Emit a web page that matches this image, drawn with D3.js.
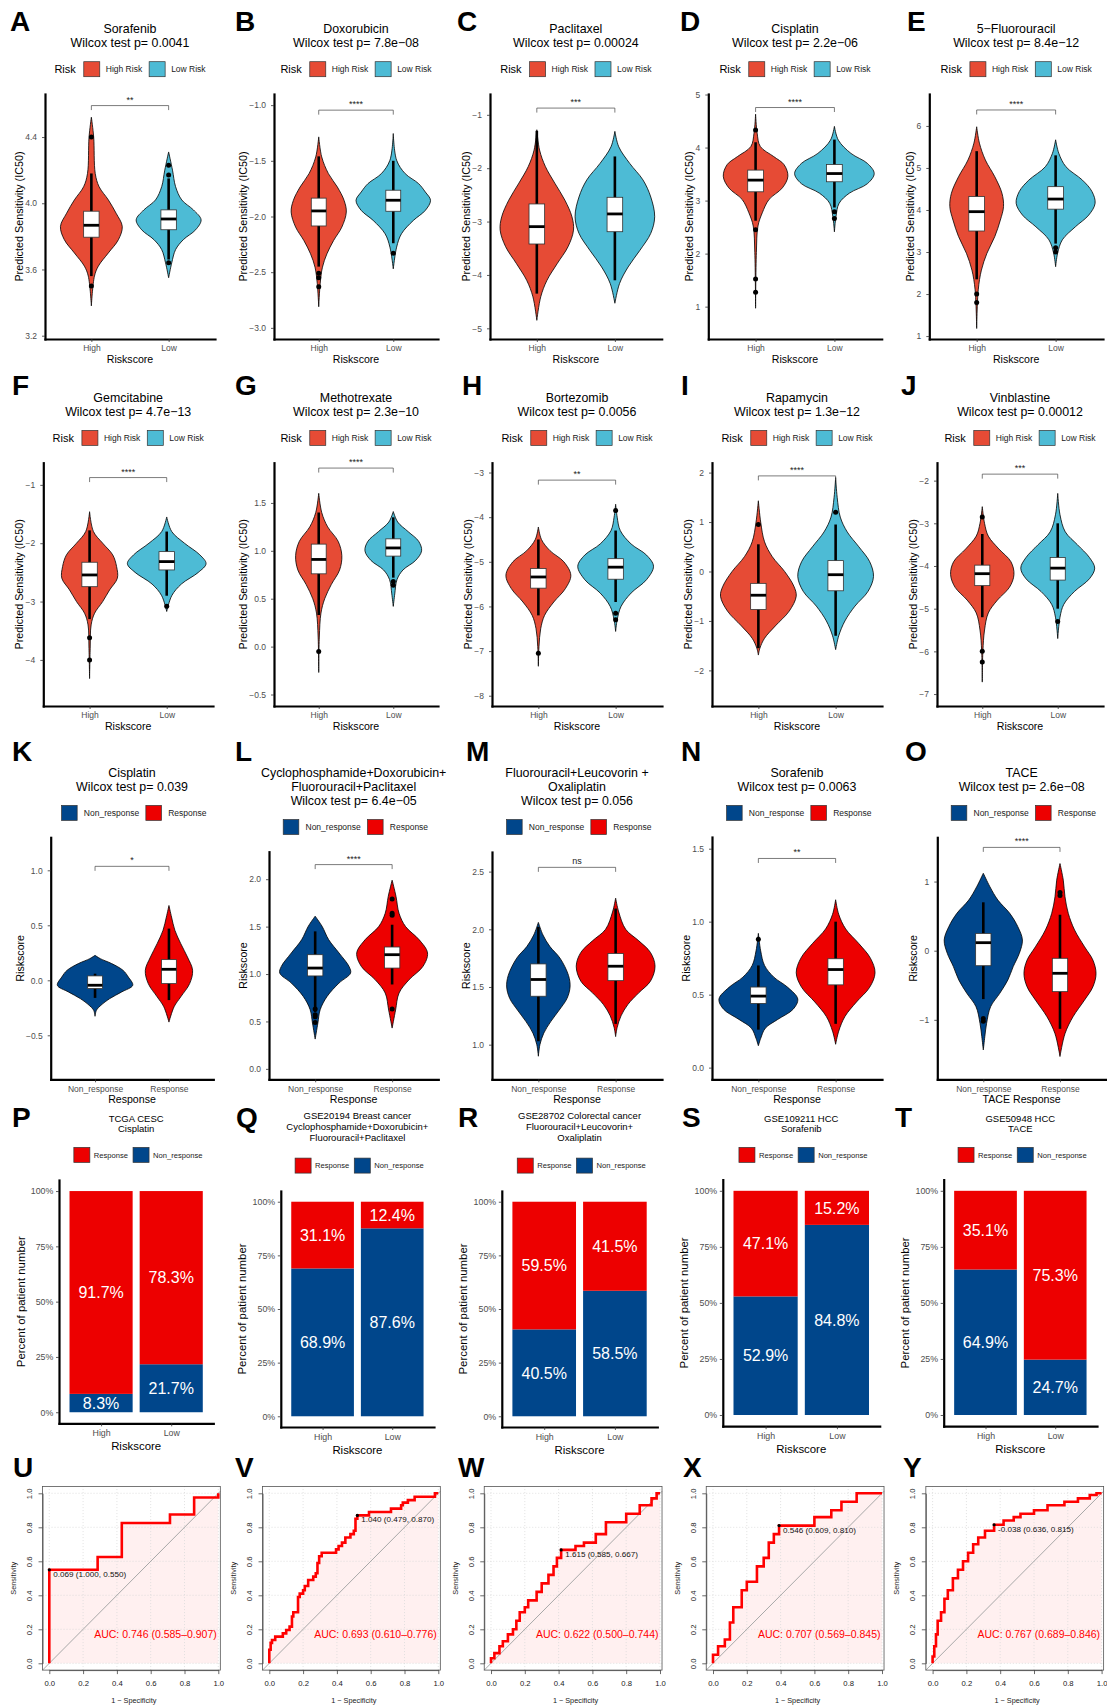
<!DOCTYPE html>
<html>
<head>
<meta charset="utf-8">
<title>Drug sensitivity and treatment response by risk score</title>
<script src="https://cdn.jsdelivr.net/npm/d3@7/dist/d3.min.js"></script>
<style>
  html, body { margin: 0; padding: 0; background: #fff; }
  svg { display: block; font-family: "Liberation Sans", Arial, Helvetica, sans-serif; }
</style>
</head>
<body>
<svg id="fig" width="1107" height="1707"></svg>
<script>
// ------------------------------------------------------------------
// Groups, colours and labels
// ------------------------------------------------------------------
const riskGroups = ["High", "Low"];
const riskLegend = ["High Risk", "Low Risk"];
const riskColors = ["#E64B35", "#4DBBD5"];
const responseGroups = ["Non_response", "Response"];
const responseColors = ["#00468B", "#ED0000"];

// Panels A–J: predicted IC50 per drug
const drugNames = ["Sorafenib", "Doxorubicin", "Paclitaxel", "Cisplatin", "5\u2212Fluorouracil",
                   "Gemcitabine", "Methotrexate", "Bortezomib", "Rapamycin", "Vinblastine"];
const drugP = ["0.0041", "7.8e\u221208", "0.00024", "2.2e\u221206", "8.4e\u221212",
               "4.7e\u221213", "2.3e\u221210", "0.0056", "1.3e\u221212", "0.00012"];
const drugSignif = ["**", "****", "***", "****", "****", "****", "****", "**", "****", "***"];

// Panels K–O: risk score per response group
const cohortTitles = [
  ["Cisplatin"],
  ["Cyclophosphamide+Doxorubicin+", "Fluorouracil+Paclitaxel"],
  ["Fluorouracil+Leucovorin +", "Oxaliplatin"],
  ["Sorafenib"],
  ["TACE"]
];
const cohortP = ["0.039", "6.4e\u221205", "0.056", "0.0063", "2.6e\u221208"];
const cohortSignif = ["*", "****", "ns", "**", "****"];
const cohortXTitle = ["Response", "Response", "Response", "Response", "TACE Response"];

// Violin outlines: [value, half-width in category units], one list per group
const violinA = [
  [[4.52,0],[4.40,0.03],[4.18,0.05],[4.10,0.10],[4.02,0.22],[3.94,0.32],[3.86,0.40],[3.78,0.35],[3.70,0.22],[3.62,0.09],[3.56,0.04],[3.38,0]],
  [[4.31,0],[4.20,0.05],[4.10,0.09],[4.02,0.17],[3.96,0.32],[3.90,0.42],[3.84,0.35],[3.78,0.19],[3.72,0.09],[3.64,0.04],[3.55,0]]
];
const violinB = [
  [[-1.285,0],[-1.465,0.04],[-1.615,0.13],[-1.735,0.25],[-1.855,0.34],[-1.96,0.37],[-2.095,0.31],[-2.215,0.2],[-2.335,0.11],[-2.455,0.05],[-2.6,0.02],[-2.81,0]],
  [[-1.255,0],[-1.495,0.045],[-1.615,0.16],[-1.705,0.34],[-1.78,0.43],[-1.855,0.5],[-1.945,0.43],[-2.035,0.27],[-2.155,0.11],[-2.275,0.045],[-2.47,0]]
];
const violinC = [
  [[-1.28,0],[-1.66,0.035],[-1.97,0.11],[-2.28,0.23],[-2.6,0.36],[-2.91,0.45],[-3.16,0.47],[-3.47,0.4],[-3.79,0.26],[-4.1,0.13],[-4.41,0.05],[-4.85,0]],
  [[-1.31,0],[-1.6,0.05],[-1.91,0.19],[-2.22,0.36],[-2.54,0.46],[-2.91,0.51],[-3.22,0.46],[-3.54,0.32],[-3.85,0.17],[-4.16,0.06],[-4.53,0]]
];
const violinD = [
  [[4.63,0],[4.27,0.02],[4.02,0.06],[3.83,0.23],[3.68,0.36],[3.46,0.41],[3.24,0.34],[3.02,0.17],[2.77,0.085],[2.52,0.03],[2.02,0.01],[0.97,0]],
  [[4.40,0],[4.14,0.05],[3.89,0.21],[3.70,0.42],[3.51,0.505],[3.32,0.42],[3.14,0.19],[2.95,0.06],[2.7,0.02],[2.41,0]]
];
const violinE = [
  [[5.98,0],[5.59,0.035],[5.19,0.11],[4.79,0.23],[4.40,0.32],[4.08,0.34],[3.76,0.30],[3.37,0.23],[2.97,0.13],[2.57,0.06],[2.1,0.02],[1.18,0]],
  [[5.67,0],[5.35,0.04],[5.03,0.13],[4.71,0.34],[4.44,0.46],[4.16,0.5],[3.88,0.42],[3.6,0.25],[3.29,0.085],[2.97,0.025],[2.65,0]]
];
const violinF = [
  [[-1.46,0],[-1.8,0.05],[-2.0,0.17],[-2.2,0.3],[-2.4,0.35],[-2.6,0.36],[-2.8,0.26],[-3.0,0.17],[-3.2,0.065],[-3.4,0.02],[-3.8,0.008],[-4.32,0]],
  [[-1.55,0],[-1.8,0.065],[-2.0,0.23],[-2.2,0.43],[-2.35,0.51],[-2.5,0.41],[-2.7,0.19],[-2.9,0.065],[-3.17,0]]
];
const violinG = [
  [[1.6,0],[1.4,0.04],[1.25,0.12],[1.1,0.26],[0.95,0.31],[0.8,0.28],[0.65,0.17],[0.5,0.08],[0.35,0.03],[0.1,0.008],[-0.27,0]],
  [[1.41,0],[1.3,0.06],[1.2,0.2],[1.1,0.34],[1.0,0.38],[0.9,0.3],[0.8,0.13],[0.7,0.05],[0.55,0.02],[0.42,0]]
];
const violinH = [
  [[-4.22,0],[-4.5,0.04],[-4.75,0.15],[-5.0,0.33],[-5.3,0.42],[-5.6,0.35],[-5.9,0.2],[-6.2,0.08],[-6.5,0.03],[-6.9,0.008],[-7.34,0]],
  [[-3.71,0],[-4.0,0.02],[-4.3,0.06],[-4.6,0.2],[-4.85,0.4],[-5.1,0.49],[-5.4,0.4],[-5.7,0.2],[-6.0,0.07],[-6.3,0.02],[-6.56,0]]
];
const violinI = [
  [[1.43,0],[1.0,0.03],[0.6,0.08],[0.3,0.18],[0.0,0.34],[-0.3,0.46],[-0.5,0.49],[-0.8,0.4],[-1.1,0.22],[-1.35,0.08],[-1.55,0.02],[-1.69,0]],
  [[1.9,0],[1.5,0.02],[1.1,0.06],[0.8,0.15],[0.5,0.3],[0.2,0.44],[-0.1,0.49],[-0.4,0.42],[-0.7,0.25],[-1.0,0.12],[-1.3,0.04],[-1.58,0]]
];
const violinJ = [
  [[-2.61,0],[-3.0,0.03],[-3.3,0.08],[-3.6,0.22],[-3.9,0.38],[-4.2,0.42],[-4.5,0.36],[-4.8,0.2],[-5.1,0.08],[-5.5,0.03],[-6.0,0.008],[-6.72,0]],
  [[-2.3,0],[-2.8,0.03],[-3.2,0.1],[-3.5,0.26],[-3.8,0.42],[-4.05,0.49],[-4.3,0.42],[-4.6,0.22],[-4.9,0.08],[-5.2,0.03],[-5.7,0]]
];
const violinK = [
  [[0.227,0],[0.197,0.07],[0.152,0.225],[0.09,0.38],[0.03,0.45],[-0.045,0.51],[-0.106,0.36],[-0.166,0.2],[-0.227,0.08],[-0.27,0.02],[-0.327,0]],
  [[0.68,0],[0.575,0.035],[0.455,0.08],[0.333,0.16],[0.212,0.25],[0.091,0.32],[-0.03,0.28],[-0.15,0.16],[-0.24,0.07],[-0.38,0]]
];
const violinL = [
  [[1.61,0],[1.503,0.09],[1.363,0.175],[1.222,0.31],[1.08,0.44],[1.01,0.46],[0.905,0.31],[0.764,0.155],[0.624,0.065],[0.483,0.035],[0.314,0]],
  [[1.99,0],[1.82,0.05],[1.64,0.09],[1.5,0.175],[1.363,0.35],[1.222,0.46],[1.08,0.4],[0.94,0.22],[0.8,0.09],[0.62,0.045],[0.43,0]]
];
const violinM = [
  [[2.06,0],[1.95,0.06],[1.85,0.15],[1.75,0.28],[1.6,0.39],[1.5,0.41],[1.4,0.37],[1.3,0.27],[1.2,0.16],[1.1,0.07],[1.0,0.02],[0.9,0]],
  [[2.27,0],[2.15,0.04],[2.0,0.13],[1.9,0.3],[1.8,0.45],[1.68,0.51],[1.55,0.45],[1.45,0.3],[1.35,0.16],[1.25,0.07],[1.15,0.02],[1.07,0]]
];
const violinN = [
  [[0.92,0],[0.8,0.03],[0.7,0.08],[0.62,0.2],[0.55,0.38],[0.47,0.51],[0.4,0.45],[0.33,0.25],[0.27,0.09],[0.2,0.03],[0.15,0]],
  [[1.15,0],[1.05,0.04],[0.95,0.13],[0.85,0.3],[0.75,0.45],[0.65,0.51],[0.55,0.44],[0.45,0.27],[0.35,0.12],[0.25,0.04],[0.16,0]]
];
const violinO = [
  [[1.12,0],[0.925,0.086],[0.732,0.19],[0.54,0.345],[0.347,0.45],[0.155,0.51],[-0.037,0.47],[-0.23,0.39],[-0.423,0.32],[-0.616,0.215],[-0.81,0.095],[-1.05,0.043],[-1.24,0.02],[-1.435,0]],
  [[1.26,0],[1.02,0.043],[0.78,0.065],[0.54,0.108],[0.3,0.19],[0.057,0.32],[-0.137,0.43],[-0.33,0.47],[-0.52,0.43],[-0.714,0.32],[-0.955,0.17],[-1.2,0.065],[-1.53,0]]
];

// Box summaries per group: [lower whisker, Q1, median, Q3, upper whisker]
const boxA = [[3.56,3.795,3.867,3.952,4.18],[3.66,3.84,3.905,3.96,4.15]];
const boxB = [[-2.45,-2.085,-1.95,-1.835,-1.46],[-2.24,-1.953,-1.854,-1.764,-1.5]];
const boxC = [[-4.35,-3.42,-3.095,-2.67,-1.3],[-4.1,-3.19,-2.857,-2.545,-1.78]];
const boxD = [[2.62,3.166,3.386,3.575,4.1],[2.87,3.355,3.51,3.68,4.15]];
const boxE = [[2.35,3.5,3.96,4.32,5.4],[3.2,4.02,4.26,4.555,5.3]];
const boxF = [[-3.3,-2.745,-2.544,-2.326,-1.78],[-2.9,-2.458,-2.315,-2.144,-1.8]];
const boxG = [[0.33,0.76,0.91,1.07,1.4],[0.72,0.945,1.03,1.125,1.35]];
const boxH = [[-6.2,-5.59,-5.34,-5.15,-4.5],[-5.9,-5.39,-5.12,-4.93,-4.3]];
const boxI = [[-1.55,-0.77,-0.48,-0.24,0.55],[-1.3,-0.39,-0.065,0.22,0.95]];
const boxJ = [[-5.2,-4.46,-4.18,-3.98,-3.25],[-5.0,-4.33,-4.05,-3.8,-3.0]];
const boxK = [[-0.16,-0.075,-0.045,0.04,0.06],[-0.18,-0.03,0.1,0.188,0.47]];
const boxL = [[0.6,0.98,1.063,1.204,1.45],[0.89,1.063,1.204,1.285,1.52]];
const boxM = [[1.03,1.42,1.565,1.7,2.02],[1.18,1.555,1.68,1.79,2.18]];
const boxN = [[0.26,0.44,0.49,0.552,0.7],[0.3,0.567,0.672,0.746,1.0]];
const boxO = [[-0.7,-0.217,0.116,0.25,0.7],[-1.13,-0.592,-0.327,-0.11,0.52]];

// Outlying observations per group
const outA = [[4.40,3.50],[4.23,4.17,3.64]];
const outB = [[-2.51,-2.55,-2.63],[-2.33]];
const outC = [[],[]];
const outD = [[4.33,2.45,1.52,1.27],[2.79,2.66]];
const outE = [[2.0,1.8],[3.1,3.0]];
const outF = [[-3.62,-4.0],[-3.08]];
const outG = [[-0.05],[0.68,0.64]];
const outH = [[-7.05],[-3.85,-6.15,-6.3]];
const outI = [[0.95],[1.2]];
const outJ = [[-2.85,-6.0,-6.25],[-5.3]];
const outK = [[],[]];
const outL = [[0.63,0.57,0.55,0.49],[1.79,1.64,1.62,0.63]];
const outM = [[],[]];
const outN = [[0.88],[]];
const outO = [[-0.98,-1.02],[0.8,0.84]];

// Height of the significance bracket (data units)
const bracketY = [4.59, -1.045, -0.874, 4.755, 6.38, -0.875, 1.864, -3.17, 1.933, -1.848,
                  1.036, 2.154, 2.537, 1.433, 1.494];

// Y scale domains and tick values
const yDomains = [[3.18,4.66],[-3.10,-0.90],[-5.20,-0.61],[0.39,5.01],[0.93,6.76],
                  [-4.79,-0.62],[-0.62,1.92],[-8.23,-2.78],[-2.72,2.20],[-7.28,-1.58],
                  [-0.90,1.30],[-0.11,2.29],[0.70,2.67],[-0.08,1.58],[-1.86,1.64]];
const yTicks = [[3.2,3.6,4.0,4.4],[-3,-2.5,-2,-1.5,-1],[-5,-4,-3,-2,-1],[1,2,3,4,5],[1,2,3,4,5,6],
                [-4,-3,-2,-1],[-0.5,0,0.5,1,1.5],[-8,-7,-6,-5,-4,-3],[-2,-1,0,1,2],[-7,-6,-5,-4,-3,-2],
                [-0.5,0,0.5,1],[0,0.5,1,1.5,2],[1,1.5,2,2.5],[0,0.5,1,1.5],[-1,0,1]];
const yFormats = [".1f",".1f","d","d","d","d",".1f","d","d","d",".1f",".1f",".1f",".1f","d"];

// Panels P–T: share of responders per risk group (%)
const barGroups = ["High", "Low"];
const barTitles = [
  ["TCGA CESC", "Cisplatin"],
  ["GSE20194 Breast cancer", "Cyclophosphamide+Doxorubicin+", "Fluorouracil+Paclitaxel"],
  ["GSE28702 Colorectal cancer", "Fluorouracil+Leucovorin+", "Oxaliplatin"],
  ["GSE109211 HCC", "Sorafenib"],
  ["GSE50948 HCC", "TACE"]
];
const barResponse    = [[91.7, 78.3], [31.1, 12.4], [59.5, 41.5], [47.1, 15.2], [35.1, 75.3]];
const barNonResponse = [[8.3, 21.7], [68.9, 87.6], [40.5, 58.5], [52.9, 84.8], [64.9, 24.7]];

// Panels U–Y: ROC curves as (1 - specificity, sensitivity) vertices
const rocU = [[0,0],[0,0.55],[0.286,0.55],[0.286,0.625],[0.429,0.625],[0.429,0.825],[0.714,0.825],[0.714,0.875],[0.857,0.875],[0.857,0.975],[1,0.975],[1,1]];
const rocV = [[0,0],[0,0.08],[0.008,0.08],[0.008,0.12],[0.016,0.12],[0.016,0.137],[0.035,0.137],[0.035,0.157],[0.08,0.157],[0.08,0.176],[0.1,0.176],[0.1,0.196],[0.12,0.196],[0.12,0.216],[0.134,0.216],[0.134,0.275],[0.142,0.275],[0.142,0.3],[0.17,0.3],[0.17,0.39],[0.18,0.39],[0.18,0.41],[0.2,0.41],[0.2,0.43],[0.21,0.43],[0.21,0.455],[0.23,0.455],[0.23,0.49],[0.26,0.49],[0.26,0.51],[0.275,0.51],[0.275,0.53],[0.285,0.53],[0.285,0.59],[0.295,0.59],[0.295,0.63],[0.31,0.63],[0.31,0.65],[0.395,0.65],[0.395,0.67],[0.41,0.67],[0.41,0.69],[0.43,0.69],[0.43,0.71],[0.45,0.71],[0.45,0.74],[0.48,0.74],[0.48,0.76],[0.5,0.76],[0.5,0.78],[0.51,0.78],[0.51,0.85],[0.521,0.85],[0.521,0.87],[0.59,0.87],[0.59,0.89],[0.72,0.89],[0.72,0.91],[0.78,0.91],[0.78,0.93],[0.79,0.93],[0.79,0.945],[0.82,0.945],[0.82,0.96],[0.86,0.96],[0.86,0.98],[0.98,0.98],[0.98,1],[1,1]];
const rocW = [[0,0],[0,0.03],[0.02,0.03],[0.02,0.06],[0.05,0.06],[0.05,0.1],[0.07,0.1],[0.07,0.13],[0.1,0.13],[0.1,0.17],[0.13,0.17],[0.13,0.2],[0.15,0.2],[0.15,0.25],[0.17,0.25],[0.17,0.3],[0.2,0.3],[0.2,0.33],[0.22,0.33],[0.22,0.37],[0.27,0.37],[0.27,0.42],[0.3,0.42],[0.3,0.47],[0.34,0.47],[0.34,0.52],[0.37,0.52],[0.37,0.57],[0.39,0.57],[0.39,0.62],[0.415,0.62],[0.415,0.667],[0.5,0.667],[0.5,0.69],[0.55,0.69],[0.55,0.71],[0.62,0.71],[0.62,0.76],[0.68,0.76],[0.68,0.83],[0.8,0.83],[0.8,0.88],[0.88,0.88],[0.88,0.93],[0.95,0.93],[0.95,0.97],[0.98,0.97],[0.98,1],[1,1]];
const rocX = [[0,0],[0,0.05],[0.03,0.05],[0.03,0.1],[0.07,0.1],[0.07,0.14],[0.1,0.14],[0.1,0.24],[0.12,0.24],[0.12,0.33],[0.17,0.33],[0.17,0.43],[0.2,0.43],[0.2,0.48],[0.26,0.48],[0.26,0.57],[0.3,0.57],[0.3,0.62],[0.33,0.62],[0.33,0.71],[0.36,0.71],[0.36,0.76],[0.391,0.76],[0.391,0.81],[0.6,0.81],[0.6,0.86],[0.7,0.86],[0.7,0.9],[0.76,0.9],[0.76,0.95],[0.85,0.95],[0.85,1],[1,1]];
const rocY = [[0,0],[0,0.04],[0.01,0.04],[0.01,0.1],[0.02,0.1],[0.02,0.17],[0.03,0.17],[0.03,0.25],[0.05,0.25],[0.05,0.3],[0.07,0.3],[0.07,0.38],[0.09,0.38],[0.09,0.43],[0.12,0.43],[0.12,0.5],[0.15,0.5],[0.15,0.55],[0.18,0.55],[0.18,0.6],[0.21,0.6],[0.21,0.65],[0.24,0.65],[0.24,0.7],[0.27,0.7],[0.27,0.74],[0.31,0.74],[0.31,0.78],[0.364,0.78],[0.364,0.815],[0.42,0.815],[0.42,0.84],[0.48,0.84],[0.48,0.86],[0.52,0.86],[0.52,0.88],[0.6,0.88],[0.6,0.9],[0.68,0.9],[0.68,0.93],[0.78,0.93],[0.78,0.95],[0.86,0.95],[0.86,0.97],[0.93,0.97],[0.93,0.99],[0.97,0.99],[0.97,1],[1,1]];
// Best threshold: [threshold, specificity, sensitivity]
const rocBest = [[0.069,1.000,0.550],[1.040,0.479,0.870],[1.615,0.585,0.667],[0.546,0.609,0.810],[-0.038,0.636,0.815]];
// AUC with 95% CI
const rocAUC = [[0.746,0.585,0.907],[0.693,0.610,0.776],[0.622,0.500,0.744],[0.707,0.569,0.845],[0.767,0.689,0.846]];

// ------------------------------------------------------------------
// Page layout (pixel boxes for each panel)
// ------------------------------------------------------------------
const violinIds = ["A","B","C","D","E","F","G","H","I","J","K","L","M","N","O"];
// plot area: [left, right, top, bottom]
const violinFrames = [
  [45,215,94,339],[274,438,94,339],[490,661.7,94,339],[708.3,881.7,94,339],[929.3,1103,94,339],
  [43.3,213,462.7,706],[274,438,462.7,706],[492,662,462.7,706],[712,882,462.7,706],[937,1103,462.7,706],
  [50.7,213.3,837.3,1079.3],[269,438.3,851.7,1079.3],[492,662,852,1079.3],[712,882,837,1079.3],[937.3,1106,837.3,1079.3]
];
const violinTags = [[10,31],[235,31],[457,31],[680,31],[907,31],
                    [12,395],[235,395],[462,395],[681,395],[901,395],
                    [12,761],[235,761],[466,761],[681,761],[905,761]];
const rowTitleY = [33, 401.7, 776.7];
const barIds = ["P","Q","R","S","T"];
const barFrames = [[59,213.3,1180,1423.3],[280.8,434,1191,1427],[501.8,657.3,1191,1427],[722.8,879.7,1179.6,1426.2],[943.7,1097,1179.6,1426.2]];
const barTags = [[12,1127],[236,1127],[458,1127],[682,1127],[895,1127]];
const rocIds = ["U","V","W","X","Y"];
const rocOrigins = [0, 220, 441.7, 663.7, 883.3];
const rocTags = [[13,1477],[235,1477],[458,1477],[683,1477],[903,1477]];

// ------------------------------------------------------------------
// Drawing helpers
// ------------------------------------------------------------------
const svg = d3.select("#fig");
svg.append("rect").attr("width", 1107).attr("height", 1707).attr("fill", "#fff");

function tag(pos, t) {
  svg.append("text").attr("x", pos[0]).attr("y", pos[1])
    .attr("font-size", 28).attr("font-weight", "bold").attr("fill", "#000").text(t);
}

function legend(parent, cx, cy, title, labels, colors, o) {
  const g = parent.append("g");
  let pos = 0;
  if (title) {
    const t = g.append("text").attr("x", 0).attr("y", cy).attr("dy", "0.35em")
      .attr("font-size", o.titleSize).text(title);
    pos = t.node().getComputedTextLength() + o.titleGap;
  }
  labels.forEach((lab, i) => {
    g.append("rect").attr("x", pos).attr("y", cy - o.h / 2).attr("width", o.w).attr("height", o.h)
      .attr("fill", colors[i]).attr("stroke", "#333").attr("stroke-width", 0.7);
    pos += o.w + o.textGap;
    const t = g.append("text").attr("x", pos).attr("y", cy).attr("dy", "0.35em")
      .attr("font-size", o.size).attr("fill", "#1a1a1a").text(lab);
    pos += t.node().getComputedTextLength();
    if (i < labels.length - 1) pos += o.itemGap;
  });
  g.attr("transform", `translate(${cx - pos / 2},0)`);
}

function styleAxis(a, fs, color, lineW) {
  a.attr("font-family", null).attr("font-size", null);
  a.select(".domain").attr("stroke", "#000").attr("stroke-width", lineW).attr("stroke-linecap", "square");
  a.selectAll(".tick line").attr("stroke", "#333").attr("stroke-width", 0.8);
  a.selectAll(".tick text").attr("font-size", fs).attr("fill", color);
}

function maxLabelWidth(a) {
  let w = 0;
  a.selectAll(".tick text").each(function () { w = Math.max(w, this.getComputedTextLength()); });
  return w;
}

// ------------------------------------------------------------------
// Violin + box panels (A–O)
// ------------------------------------------------------------------
const violinShapes = [violinA,violinB,violinC,violinD,violinE,violinF,violinG,violinH,violinI,violinJ,violinK,violinL,violinM,violinN,violinO];
const violinBoxes  = [boxA,boxB,boxC,boxD,boxE,boxF,boxG,boxH,boxI,boxJ,boxK,boxL,boxM,boxN,boxO];
const violinOut    = [outA,outB,outC,outD,outE,outF,outG,outH,outI,outJ,outK,outL,outM,outN,outO];

violinIds.forEach((id, k) => {
  const [L, R, T, B] = violinFrames[k];
  const isDrug = k < 10;
  const row = Math.floor(k / 5);
  const g = svg.append("g");
  const x = d3.scaleLinear().domain([0.4, 2.6]).range([L, R]);
  const y = d3.scaleLinear().domain(yDomains[k]).range([B, T]);
  const mid = (L + R) / 2;
  const colors = isDrug ? riskColors : responseColors;
  const groups = isDrug ? riskGroups : responseGroups;

  tag(violinTags[k], id);

  // title
  const lines = isDrug
    ? [drugNames[k], "Wilcox test p= " + drugP[k]]
    : cohortTitles[k - 10].concat(["Wilcox test p= " + cohortP[k - 10]]);
  lines.forEach((t, i) => g.append("text").attr("x", mid).attr("y", rowTitleY[row] + i * 14.1)
    .attr("text-anchor", "middle").attr("font-size", 12.4).attr("fill", "#000").text(t));

  // legend
  const legendY = rowTitleY[row] + lines.length * 14.1 + 8;
  if (isDrug) {
    legend(g, mid, legendY, "Risk", riskLegend, riskColors,
      {titleSize: 11, titleGap: 8, w: 16, h: 15, textGap: 6, itemGap: 7, size: 8.5});
  } else {
    legend(g, mid + 2, legendY, null, responseGroups, responseColors,
      {w: 15.6, h: 15, textGap: 6.7, itemGap: 6.7, size: 8.5});
  }

  // violins
  violinShapes[k].forEach((prof, i) => {
    const c = i + 1;
    const area = d3.area().curve(d3.curveCatmullRom.alpha(0.5))
      .y(d => y(d[0])).x0(d => x(c - d[1])).x1(d => x(c + d[1]));
    g.append("path").attr("d", area(prof)).attr("fill", colors[i])
      .attr("stroke", "#000").attr("stroke-width", 0.8);
  });

  // boxes
  const hw = 0.1;
  violinBoxes[k].forEach((b, i) => {
    const c = i + 1;
    const [lo, q1, md, q3, hi] = b;
    g.append("line").attr("x1", x(c)).attr("x2", x(c)).attr("y1", y(hi)).attr("y2", y(lo))
      .attr("stroke", "#000").attr("stroke-width", 2.6);
    g.append("rect").attr("x", x(c - hw)).attr("width", x(c + hw) - x(c - hw))
      .attr("y", y(q3)).attr("height", y(q1) - y(q3))
      .attr("fill", "#fff").attr("stroke", "#333").attr("stroke-width", 0.8);
    g.append("line").attr("x1", x(c - hw)).attr("x2", x(c + hw)).attr("y1", y(md)).attr("y2", y(md))
      .attr("stroke", "#000").attr("stroke-width", 2.8);
  });
  violinOut[k].forEach((arr, i) => arr.forEach(v => {
    g.append("circle").attr("cx", x(i + 1)).attr("cy", y(v)).attr("r", 2.5).attr("fill", "#000");
  }));

  // significance bracket
  const by = y(bracketY[k]);
  g.append("path").attr("d", `M${x(1)},${by + 4.5}V${by}H${x(2)}V${by + 4.5}`)
    .attr("fill", "none").attr("stroke", "#444").attr("stroke-width", 0.7);
  g.append("text").attr("x", (x(1) + x(2)) / 2).attr("y", by - 3).attr("text-anchor", "middle")
    .attr("font-size", 9).attr("fill", "#222")
    .text(isDrug ? drugSignif[k] : cohortSignif[k - 10]);

  // axes
  const ya = g.append("g").attr("transform", `translate(${L},0)`)
    .call(d3.axisLeft(y).tickValues(yTicks[k]).tickFormat(d3.format(yFormats[k]))
      .tickSize(3).tickSizeOuter(0).tickPadding(5));
  styleAxis(ya, 8.5, "#4D4D4D", 2.2);
  const xa = g.append("g").attr("transform", `translate(0,${B})`)
    .call(d3.axisBottom(x).tickValues([1, 2]).tickFormat((d, i) => groups[i])
      .tickSize(3).tickSizeOuter(0).tickPadding(3.3));
  styleAxis(xa, 8.5, "#4D4D4D", 2.2);

  const lw = maxLabelWidth(ya);
  g.append("text").attr("transform", `translate(${L - lw - 14},${(T + B) / 2}) rotate(-90)`)
    .attr("text-anchor", "middle").attr("dy", "0.35em").attr("font-size", isDrug ? 10.8 : 10.6)
    .attr("fill", "#000").text(isDrug ? "Predicted Sensitivity (IC50)" : "Riskscore");
  g.append("text").attr("x", mid).attr("y", B + 24).attr("text-anchor", "middle")
    .attr("font-size", 10.6).attr("fill", "#000")
    .text(isDrug ? "Riskscore" : cohortXTitle[k - 10]);
});

// ------------------------------------------------------------------
// Stacked percentage bars (P–T)
// ------------------------------------------------------------------
barIds.forEach((id, k) => {
  const [L, R, T, B] = barFrames[k];
  const g = svg.append("g");
  const x = d3.scaleLinear().domain([0.4, 2.6]).range([L, R]);
  const y = d3.scaleLinear().domain([-0.05, 1.05]).range([B, T]);
  const mid = (L + R) / 2;
  tag(barTags[k], id);

  const lines = barTitles[k];
  const t0 = lines.length === 2 ? 1121.5 : 1119;
  lines.forEach((t, i) => g.append("text").attr("x", mid).attr("y", t0 + i * 10.9)
    .attr("text-anchor", "middle").attr("font-size", 9.5).attr("fill", "#000").text(t));
  const ly = t0 + (lines.length - 1) * 10.9 + (lines.length === 2 ? 22.5 : 24.8);
  legend(g, mid + 2, ly, null, ["Response", "Non_response"], [responseColors[1], responseColors[0]],
    {w: 16, h: 15, textGap: 4, itemGap: 5, size: 7.6});

  const rows = barGroups.map((name, i) => ({
    pos: i + 1, Non_response: barNonResponse[k][i] / 100, Response: barResponse[k][i] / 100
  }));
  const keys = ["Non_response", "Response"];
  const stacked = d3.stack().keys(keys)(rows);
  stacked.forEach((layer, li) => {
    layer.forEach(seg => {
      const c = seg.data.pos;
      g.append("rect").attr("x", x(c - 0.45)).attr("width", x(c + 0.45) - x(c - 0.45))
        .attr("y", y(seg[1])).attr("height", y(seg[0]) - y(seg[1]))
        .attr("fill", responseColors[li]);
      g.append("text").attr("x", x(c)).attr("y", (y(seg[0]) + y(seg[1])) / 2).attr("dy", "0.36em")
        .attr("text-anchor", "middle").attr("font-size", 16).attr("fill", "#fff")
        .text(d3.format(".1f")(seg.data[layer.key] * 100) + "%");
    });
  });

  const ya = g.append("g").attr("transform", `translate(${L},0)`)
    .call(d3.axisLeft(y).tickValues([0, 0.25, 0.5, 0.75, 1]).tickFormat(d3.format(".0%"))
      .tickSize(3).tickSizeOuter(0).tickPadding(2.7));
  styleAxis(ya, 8.8, "#4D4D4D", 2.2);
  const xa = g.append("g").attr("transform", `translate(0,${B})`)
    .call(d3.axisBottom(x).tickValues([1, 2]).tickFormat((d, i) => barGroups[i])
      .tickSize(3).tickSizeOuter(0).tickPadding(3.3));
  styleAxis(xa, 8.8, "#4D4D4D", 2.2);
  const lw = maxLabelWidth(ya);
  g.append("text").attr("transform", `translate(${L - lw - 16},${(T + B) / 2}) rotate(-90)`)
    .attr("text-anchor", "middle").attr("dy", "0.35em").attr("font-size", 11.4)
    .attr("fill", "#000").text("Percent of patient number");
  g.append("text").attr("x", mid).attr("y", B + 27).attr("text-anchor", "middle")
    .attr("font-size", 11.4).attr("fill", "#000").text("Riskscore");
});

// ------------------------------------------------------------------
// ROC curves (U–Y)
// ------------------------------------------------------------------
const rocCurves = [rocU, rocV, rocW, rocX, rocY];
rocIds.forEach((id, k) => {
  const ox = rocOrigins[k];
  const g = svg.append("g");
  const x = d3.scaleLinear().domain([0, 1]).range([ox + 49.3, ox + 218.3]);
  const y = d3.scaleLinear().domain([0, 1]).range([1663.3, 1493.3]);
  tag(rocTags[k], id);
  const curve = rocCurves[k];
  const xMax = 1.012;   // right edge of the plotting frame

  // area under the curve
  const under = d3.area().x(d => x(d[0])).y0(y(0)).y1(d => y(d[1]));
  g.append("path").attr("d", under(curve)).attr("fill", "#FFF0F0");

  // grid
  const gv = d3.range(0, 1.0001, 0.2);
  gv.forEach(v => {
    g.append("line").attr("x1", x(v)).attr("x2", x(v)).attr("y1", y(-0.04)).attr("y2", y(1.04))
      .attr("stroke", "#D9D9D9").attr("stroke-width", 0.8).attr("stroke-dasharray", "1,2");
    g.append("line").attr("y1", y(v)).attr("y2", y(v)).attr("x1", x(-0.04)).attr("x2", x(xMax))
      .attr("stroke", "#D9D9D9").attr("stroke-width", 0.8).attr("stroke-dasharray", "1,2");
  });

  // chance line
  g.append("line").attr("x1", x(-0.04)).attr("y1", y(-0.04)).attr("x2", x(xMax)).attr("y2", y(xMax))
    .attr("stroke", "#A8A8A8").attr("stroke-width", 1);

  // ROC curve
  g.append("path").attr("d", d3.line().x(d => x(d[0])).y(d => y(d[1]))(curve))
    .attr("fill", "none").attr("stroke", "#FF0000").attr("stroke-width", 2.6)
    .attr("stroke-linejoin", "miter");

  // frame
  g.append("rect").attr("x", x(-0.04)).attr("y", y(1.04))
    .attr("width", x(xMax) - x(-0.04)).attr("height", y(-0.04) - y(1.04))
    .attr("fill", "none").attr("stroke", "#555").attr("stroke-width", 0.8);

  // axes
  const ticks = [0, 0.2, 0.4, 0.6, 0.8, 1];
  const ya = g.append("g").attr("transform", `translate(${x(-0.04)},0)`)
    .call(d3.axisLeft(y).tickValues(ticks).tickFormat(d3.format(".1f")).tickSize(4).tickSizeOuter(0));
  ya.attr("font-family", null).attr("font-size", null);
  ya.select(".domain").attr("stroke", "#444").attr("stroke-width", 0.8);
  ya.selectAll(".tick line").attr("stroke", "#444").attr("stroke-width", 0.8);
  ya.selectAll(".tick text").attr("x", null).attr("dy", "0.35em").attr("text-anchor", "middle")
    .attr("transform", "translate(-13.4,0) rotate(-90)").attr("font-size", 7.7).attr("fill", "#222");
  const xa = g.append("g").attr("transform", `translate(0,${y(-0.04)})`)
    .call(d3.axisBottom(x).tickValues(ticks).tickFormat(d3.format(".1f")).tickSize(4).tickSizeOuter(0));
  xa.attr("font-family", null).attr("font-size", null);
  xa.select(".domain").attr("stroke", "#444").attr("stroke-width", 0.8);
  xa.selectAll(".tick line").attr("stroke", "#444").attr("stroke-width", 0.8);
  xa.selectAll(".tick text").attr("y", 13.2).attr("dy", "0.35em").attr("font-size", 7.7).attr("fill", "#222");

  g.append("text").attr("transform", `translate(${ox + 13.3},${y(0.5)}) rotate(-90)`)
    .attr("text-anchor", "middle").attr("dy", "0.35em").attr("font-size", 7.3).attr("fill", "#222")
    .text("Sensitivity");
  g.append("text").attr("x", x(0.5)).attr("y", 1702.6).attr("text-anchor", "middle")
    .attr("font-size", 7.3).attr("fill", "#222").text("1 \u2212 Specificity");

  // best threshold
  const [thr, spec, sens] = rocBest[k];
  const px = x(1 - spec), py = y(sens);
  g.append("circle").attr("cx", px).attr("cy", py).attr("r", 1.6).attr("fill", "#000");
  g.append("text").attr("x", px + 4).attr("y", py + 7).attr("font-size", 8.1).attr("fill", "#111")
    .text(`${d3.format(".3f")(thr).replace("\u2212", "-")} (${d3.format(".3f")(spec)}, ${d3.format(".3f")(sens)})`);

  // AUC
  const [auc, lo, hi] = rocAUC[k];
  g.append("text").attr("x", x(1) - 1.5).attr("y", y(0.2) + 8.3).attr("text-anchor", "end")
    .attr("font-size", 10.5).attr("fill", "#FF0000")
    .text(`AUC: ${d3.format(".3f")(auc)} (${d3.format(".3f")(lo)}\u2013${d3.format(".3f")(hi)})`);
});
</script>
</body>
</html>
